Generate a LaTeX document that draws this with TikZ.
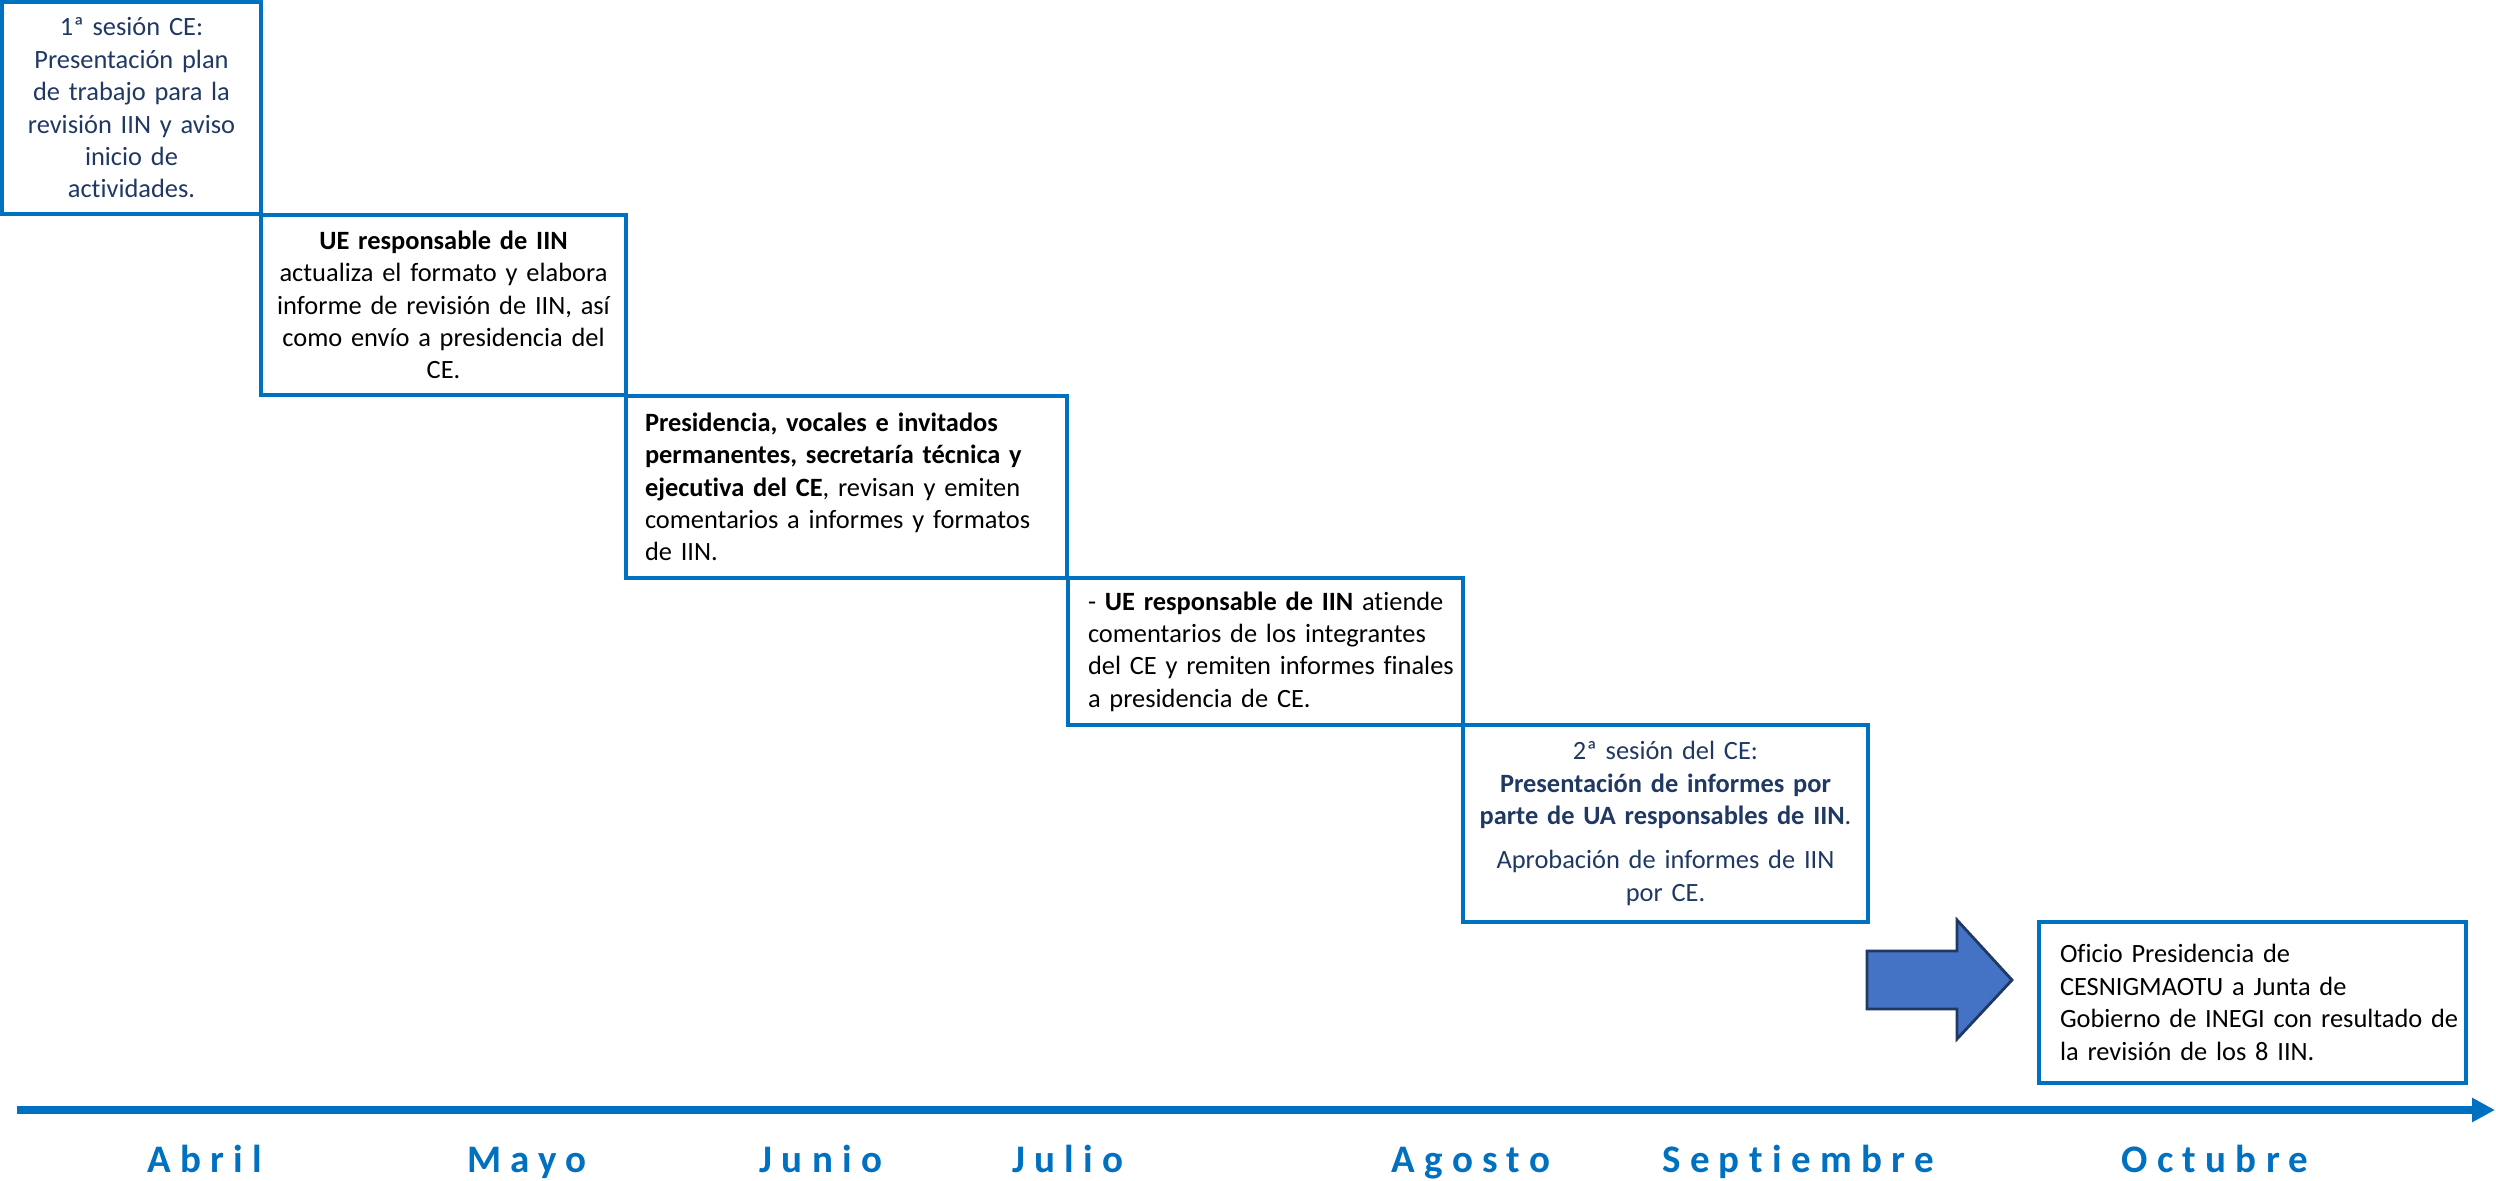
\documentclass[tikz,border=0pt]{standalone}
\usepackage{fontspec}
\setmainfont{Carlito}[Ligatures=NoCommon]
\newfontfamily\monthfont{Carlito}[LetterSpace=24,Ligatures=NoCommon]
\usetikzlibrary{arrows.meta}
\definecolor{boxblue}{HTML}{0070C0}
\definecolor{navytext}{HTML}{1F3864}
\definecolor{arrowfill}{HTML}{4472C4}
\definecolor{arrowline}{HTML}{203864}
\newcommand{\lline}[1]{\mbox{#1}}
\tikzset{
  stepbox/.style={draw=boxblue, line width=2pt, inner ysep=0pt,
    font=\fontsize{13.2}{16.2}\selectfont},
  centbox/.style={stepbox, align=center, inner xsep=5pt},
  leftbox/.style={stepbox, align=left},
  monthlbl/.style={anchor=base, text=boxblue, inner sep=0pt,
    font=\monthfont\bfseries\fontsize{19.5}{22}\selectfont},
  timeline/.style={draw=boxblue, line width=4pt, -{Triangle[length=11.5pt,width=11.5pt]}},
  blockarrow/.style={fill=arrowfill, draw=arrowline, line width=1.4pt, line join=miter}
}
\begin{document}
\begin{tikzpicture}[x=0.5pt,y=-0.5pt]
\useasboundingbox (0,0) rectangle (2496,1181);

% boxes
\node[centbox, text=navytext, minimum width=129.5pt, minimum height=106pt, text width=119.5pt] (b1) at (131.5,108)
 {\lline{1ª sesión CE:}\\ \lline{Presentación plan}\\ \lline{de trabajo para la}\\ \lline{revisión IIN y aviso}\\ \lline{inicio de}\\ \lline{actividades.}};

\node[centbox, minimum width=182.5pt, minimum height=90pt, text width=172.5pt] (b2) at (443.5,305)
 {\lline{\textbf{UE responsable de IIN}}\\ \lline{actualiza el formato y elabora}\\ \lline{informe de revisión de IIN, así}\\ \lline{como envío a presidencia del}\\ \lline{CE.}};

\node[leftbox, minimum width=220.5pt, minimum height=91pt, inner xsep=9.5pt, text width=201.5pt] (b3) at (846.5,487)
 {\lline{\textbf{Presidencia, vocales e invitados}}\\ \lline{\textbf{permanentes, secretaría técnica y}}\\ \lline{\textbf{ejecutiva del CE}, revisan y emiten}\\ \lline{comentarios a informes y formatos}\\ \lline{de IIN.}};

\node[leftbox, minimum width=197.5pt, minimum height=73.5pt, inner xsep=10pt, text width=177.5pt] (b4) at (1265.5,651.5)
 {\lline{- \textbf{UE responsable de IIN} atiende}\\ \lline{comentarios de los integrantes}\\ \lline{del CE y remiten informes finales}\\ \lline{a presidencia de CE.}};

\node[centbox, text=navytext, minimum width=202.5pt, minimum height=98.5pt, text width=192.5pt] (b5) at (1665.5,823.5)
 {\lline{2ª sesión del CE:}\\ \lline{\textbf{Presentación de informes por}}\\ \lline{\textbf{parte de UA responsables de IIN}.}\\[6pt] \lline{Aprobación de informes de IIN}\\ \lline{por CE.}};

\node[leftbox, minimum width=213.5pt, minimum height=80.5pt, inner xsep=10.5pt, text width=192.5pt] (b7) at (2252.5,1002.5)
 {\lline{Oficio Presidencia de}\\ \lline{CESNIGMAOTU a Junta de}\\ \lline{Gobierno de INEGI con resultado de}\\ \lline{la revisión de los 8 IIN.}};

% block arrow
\draw[blockarrow] (1867,951) -- (1957,951) -- (1957,920) -- (2012,980) -- (1957,1039) -- (1957,1009) -- (1867,1009) -- cycle;

% timeline
\coordinate (tlstart) at (17,1110);
\coordinate (tlend) at (2495,1110);
\draw[timeline] (tlstart) -- (tlend);

% months
\node[monthlbl] (mabr) at (205,1172) {Abril};
\node[monthlbl] (mmay) at (527,1172) {Mayo};
\node[monthlbl] (mjun) at (821,1172) {Junio};
\node[monthlbl] (mjul) at (1068,1172) {Julio};
\node[monthlbl] (mago) at (1471,1172) {Agosto};
\node[monthlbl] (msep) at (1798,1172) {Septiembre};
\node[monthlbl] (moct) at (2215,1172) {Octubre};
\end{tikzpicture}
\end{document}
